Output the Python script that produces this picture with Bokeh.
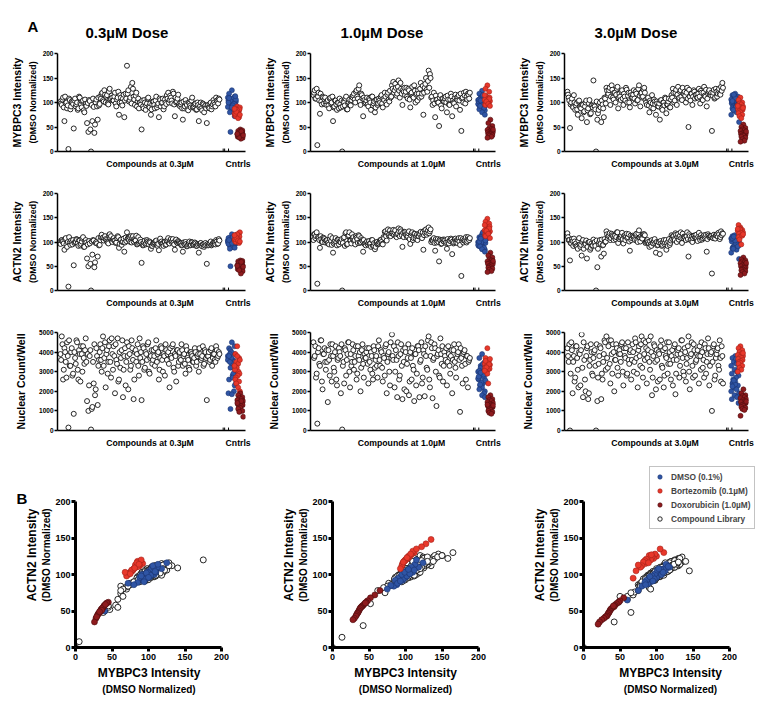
import numpy as np
from bokeh.plotting import figure
from bokeh.models import Range1d, LinearAxis, FixedTicker, Legend, LegendItem, Title
from bokeh.layouts import column, row
from bokeh.embed import file_html
from bokeh.resources import INLINE

FONT = "Liberation Sans"
BLUE, BLUE_EDGE = "#2f55a5", "#1b3470"
RED, RED_EDGE = "#e8382b", "#a3221a"
DKRED, DKRED_EDGE = "#8e1b1e", "#4e0c0e"

DOSES = ["0.3µM", "1.0µM", "3.0µM"]
Y_TICKS_INT = [0, 50, 100, 150, 200]
Y_TICKS_NUC = [0, 1000, 2000, 3000, 4000, 5000]

# ---------------- compound library, plate A (even wells) ----------------
MYBPC3_03 = [102, 95, 110, 62, 98, 88, 5, 105, 92, 100,
             47, 108, 96, 85, 112, 99, 90, 104, 80, 97,
             58, 40, 103, 0, 62, 91, 55, 106, 65, 94,
             112, 118, 105, 125, 100, 115, 96, 128, 108, 110,
             104, 120, 92, 110, 75, 115, 100, 108, 70, 118,
             175, 125, 105, 132, 140, 112, 95, 120, 102, 88,
             100, 45, 92, 105, 85, 98, 110, 90, 75, 96,
             102, 88, 112, 95, 70, 105, 99, 108, 92, 100,
             115, 120, 105, 110, 98, 118, 72, 100, 108, 95,
             92, 100, 65, 88, 105, 95, 84, 98, 90, 110,
             90, 96, 85, 100, 62, 93, 88, 98, 80, 94,
             58, 95, 88, 100, 92, 105, 96, 110, 102, 108]
ACTN2_03 = [96, 104, 102, 84, 108, 90, 8, 99, 103, 95,
            52, 100, 106, 97, 104, 93, 101, 110, 90, 104,
            66, 50, 97, 0, 74, 103, 58, 100, 70, 93,
            104, 115, 109, 108, 106, 101, 97, 116, 112, 100,
            108, 103, 99, 112, 88, 104, 94, 101, 80, 109,
            120, 106, 110, 112, 109, 101, 104, 113, 96, 98,
            105, 57, 93, 99, 95, 104, 98, 101, 86, 92,
            96, 99, 103, 92, 83, 107, 101, 97, 100, 94,
            103, 108, 97, 106, 102, 99, 84, 105, 98, 100,
            98, 93, 80, 96, 100, 91, 95, 101, 94, 99,
            94, 99, 92, 96, 78, 97, 93, 95, 90, 98,
            55, 93, 97, 101, 95, 99, 98, 104, 96, 106]
NUCLEI_03 = [3900, 4800, 2600, 4200, 3500, 4500, 150, 3300, 4000, 2800,
             850, 3700, 4600, 3100, 4100, 2500, 3900, 4300, 3400, 4700,
             1500, 1000, 3800, 50, 1200, 2400, 1800, 4200, 1300, 3600,
             4400, 3000, 4800, 3700, 2200, 4100, 3500, 4600, 2700, 3900,
             4300, 1900, 3600, 4700, 2600, 3200, 4100, 1700, 3800, 2300,
             4500, 2100, 3900, 3300, 4200, 1600, 4000, 3500, 4400, 2800,
             3700, 1550, 4300, 3100, 4000, 3600, 4500, 2900, 3800, 3400,
             4100, 3300, 4600, 3900, 2600, 3700, 4200, 3000, 3800, 4400,
             3600, 4000, 2200, 3800, 4300, 3200, 3900, 2500, 4100, 3500,
             3700, 4400, 3300, 3900, 2900, 4100, 3600, 3100, 4000, 3800,
             3500, 4200, 3300, 3800, 3000, 3900, 3700, 4300, 3400, 4000,
             1550, 3800, 3500, 4100, 3300, 3900, 3600, 4300, 3700, 4000]

MYBPC3_10 = [115, 125, 108, 13, 120, 77, 102, 112, 98, 110,
             95, 105, 88, 110, 100, 62, 92, 104, 85, 99,
             108, 90, 0, 102, 94, 112, 86, 100, 96, 105,
             110, 118, 100, 125, 108, 135, 95, 115, 72, 105,
             100, 110, 92, 105, 85, 112, 98, 80, 104, 95,
             108, 100, 115, 90, 105, 112, 96, 120, 102, 110,
             135, 142, 125, 130, 118, 145, 110, 128, 95, 122,
             115, 130, 108, 125, 90, 120, 112, 135, 100, 118,
             125, 110, 140, 118, 75, 130, 150, 122, 165, 158,
             110, 95, 120, 70, 105, 100, 52, 115, 88, 108,
             102, 112, 80, 106, 95, 118, 72, 100, 110, 92,
             105, 115, 85, 42, 110, 120, 98, 112, 118, 108]
ACTN2_10 = [104, 116, 112, 14, 108, 88, 106, 100, 108, 99,
            102, 97, 95, 112, 94, 78, 100, 108, 93, 104,
            101, 99, 0, 108, 92, 120, 96, 114, 103, 97,
            106, 102, 95, 109, 98, 112, 100, 104, 80, 96,
            93, 101, 98, 96, 90, 104, 92, 85, 99, 95,
            97, 104, 100, 95, 108, 122, 103, 126, 116, 112,
            118, 125, 120, 113, 116, 128, 112, 122, 90, 110,
            120, 114, 112, 122, 96, 118, 104, 117, 108, 115,
            112, 118, 121, 108, 84, 124, 126, 119, 130, 122,
            100, 104, 108, 82, 99, 106, 60, 103, 97, 105,
            105, 98, 86, 100, 103, 107, 75, 97, 106, 99,
            98, 108, 94, 30, 106, 103, 102, 99, 110, 104]
NUCLEI_10 = [4500, 3800, 2700, 350, 4200, 3300, 4600, 2100, 3900, 3500,
             4100, 1450, 3600, 4400, 2500, 3800, 3000, 4300, 2300, 3700,
             4000, 1900, 50, 3500, 4200, 2800, 3900, 4500, 2200, 3300,
             4400, 3100, 3800, 2600, 4300, 3600, 2000, 4100, 3400, 3900,
             3700, 4200, 2400, 3500, 4000, 2900, 4300, 3200, 3800, 2700,
             4600, 3300, 4000, 2500, 3700, 4300, 1900, 3900, 3000, 4500,
             4900, 3600, 2200, 4100, 1700, 3800, 2800, 4400, 1600, 3500,
             4200, 2000, 3700, 1800, 4000, 2600, 3300, 1500, 3900, 2900,
             4300, 1700, 3600, 2400, 4100, 1750, 3800, 3100, 4800, 2200,
             4500, 1650, 3700, 4200, 1250, 3900, 2800, 4700, 3400, 2500,
             4000, 3600, 2300, 4300, 3300, 3800, 1900, 4100, 3500, 2700,
             3900, 4400, 950, 3700, 2400, 4000, 3400, 3800, 2200, 3600]

MYBPC3_30 = [122, 110, 48, 100, 92, 115, 85, 98, 75, 104,
             90, 68, 95, 82, 100, 60, 88, 105, 78, 94,
             145, 92, 0, 65, 85, 100, 60, 96, 70, 108,
             130, 115, 125, 95, 135, 110, 120, 100, 128, 88,
             118, 105, 125, 95, 112, 130, 100, 120, 90, 115,
             110, 125, 98, 118, 105, 135, 92, 120, 112, 130,
             105, 95, 110, 80, 100, 115, 88, 102, 75, 98,
             92, 65, 105, 85, 100, 110, 78, 96, 108, 90,
             115, 128, 100, 120, 95, 132, 110, 125, 105, 118,
             122, 100, 130, 50, 112, 118, 95, 125, 108, 115,
             110, 128, 98, 120, 105, 132, 112, 92, 118, 125,
             115, 42, 120, 108, 128, 112, 125, 118, 132, 140]
ACTN2_30 = [118, 104, 62, 97, 102, 107, 95, 92, 86, 108,
            90, 72, 104, 94, 96, 66, 99, 100, 88, 92,
            105, 100, 0, 48, 96, 104, 70, 93, 76, 100,
            122, 108, 114, 104, 117, 112, 110, 106, 120, 98,
            106, 110, 119, 97, 114, 112, 108, 116, 82, 104,
            113, 110, 104, 117, 100, 124, 101, 108, 115, 116,
            98, 102, 100, 90, 95, 104, 97, 106, 78, 93,
            100, 75, 97, 94, 104, 99, 84, 92, 106, 98,
            114, 112, 106, 118, 100, 116, 110, 120, 98, 108,
            110, 104, 120, 70, 112, 106, 100, 113, 109, 115,
            102, 119, 104, 109, 108, 114, 112, 80, 116, 110,
            112, 35, 108, 110, 114, 116, 119, 106, 122, 118]
NUCLEI_30 = [4200, 3500, 0, 4500, 1900, 3800, 2700, 4300, 3100, 4000,
             2300, 4900, 1700, 3600, 2000, 4200, 1600, 3300, 4400, 2900,
             3700, 4100, 0, 1500, 3400, 4300, 1600, 2600, 3900, 4500,
             4800, 3200, 4600, 2400, 3900, 4400, 2000, 3600, 4200, 2800,
             4100, 3500, 4500, 2300, 3800, 4200, 2900, 3600, 4000, 2600,
             4400, 3000, 4700, 3700, 2200, 4300, 3300, 4800, 2700, 3900,
             4500, 2400, 4100, 3500, 4800, 1800, 3800, 4300, 2100, 3600,
             4000, 2600, 4600, 3200, 2200, 4200, 3700, 2900, 4500, 3400,
             3800, 2300, 4300, 1850, 3600, 4100, 2700, 3900, 4600, 3000,
             4200, 2500, 3700, 4800, 2100, 3900, 3300, 4400, 2800, 3600,
             4100, 2400, 3800, 4500, 3200, 2700, 4200, 3500, 4700, 2300,
             3900, 1000, 4300, 2600, 3700, 4100, 3300, 4600, 2500, 3800]

# ---------------- compound library, plate B (odd wells) ----------------
MYBPC3_03_B = [98, 106, 90, 112, 100, 94, 108, 86, 102, 97,
               104, 92, 100, 88, 110, 96, 102, 84, 106, 93,
               99, 105, 45, 95, 108, 38, 100, 92, 110, 97,
               108, 120, 102, 116, 112, 98, 122, 106, 114, 104,
               112, 98, 106, 122, 100, 110, 94, 116, 104, 108,
               118, 102, 110, 98, 128, 106, 114, 92, 108, 100,
               96, 104, 88, 100, 94, 108, 92, 98, 86, 102,
               95, 104, 90, 98, 108, 92, 100, 86, 106, 97,
               108, 100, 114, 104, 122, 96, 110, 102, 116, 98,
               96, 88, 102, 92, 98, 86, 100, 94, 104, 90,
               92, 98, 86, 95, 90, 100, 84, 96, 92, 88,
               94, 90, 98, 86, 96, 100, 92, 104, 98, 106]
ACTN2_03_B = [103, 101, 97, 106, 95, 100, 110, 94, 99, 104,
              98, 100, 105, 92, 103, 96, 107, 90, 101, 99,
              95, 102, 55, 101, 104, 48, 98, 97, 108, 94,
              110, 108, 103, 112, 104, 99, 114, 108, 102, 106,
              103, 98, 108, 110, 96, 105, 100, 107, 99, 102,
              107, 104, 100, 99, 112, 106, 103, 95, 110, 101,
              100, 96, 94, 103, 97, 101, 95, 99, 92, 97,
              98, 102, 95, 96, 104, 99, 97, 92, 100, 95,
              101, 98, 104, 100, 106, 95, 103, 99, 102, 97,
              97, 94, 99, 95, 96, 92, 98, 93, 100, 95,
              95, 97, 92, 94, 96, 98, 91, 95, 93, 94,
              96, 94, 98, 93, 97, 99, 95, 101, 97, 103]
NUCLEI_03_B = [3600, 4400, 3100, 4000, 2700, 3800, 4600, 3300, 4200, 2900,
               4000, 3400, 4500, 2600, 3900, 4300, 3000, 3700, 4100, 3500,
               3900, 2300, 4100, 1100, 3500, 4400, 2100, 3800, 3300, 4000,
               3600, 4200, 3300, 4500, 3900, 2900, 4300, 3500, 4700, 3100,
               3800, 4400, 3400, 2500, 4000, 3700, 4600, 3100, 4200, 3500,
               3800, 4300, 3100, 4600, 3600, 2600, 4100, 3900, 3300, 4700,
               4000, 3500, 4200, 3200, 3900, 4400, 3000, 3700, 4100, 3600,
               3800, 4200, 3500, 4000, 3100, 4300, 3600, 3900, 2800, 4100,
               3900, 3400, 4200, 3700, 4400, 3000, 3800, 4100, 3300, 4000,
               3600, 4100, 3800, 3400, 4300, 3700, 3200, 4000, 3900, 3500,
               3700, 4000, 3500, 3900, 4200, 3600, 3800, 3300, 4100, 3700,
               3800, 4000, 3600, 4200, 3700, 3900, 3500, 4100, 3800, 3900]

MYBPC3_10_B = [120, 108, 128, 112, 104, 118, 96, 110, 106, 100,
               102, 94, 108, 98, 112, 90, 104, 96, 100, 88,
               96, 104, 92, 100, 108, 86, 98, 106, 94, 112,
               114, 106, 122, 112, 128, 102, 118, 108, 110, 98,
               104, 96, 108, 100, 112, 94, 102, 90, 106, 98,
               104, 112, 98, 108, 120, 100, 116, 106, 124, 112,
               128, 120, 138, 114, 132, 124, 140, 118, 126, 130,
               122, 112, 128, 106, 118, 132, 110, 124, 116, 104,
               118, 128, 112, 134, 120, 138, 126, 144, 130, 150,
               112, 104, 98, 114, 106, 100, 110, 94, 108, 102,
               108, 100, 114, 96, 106, 112, 104, 98, 116, 110,
               112, 104, 118, 108, 100, 114, 122, 106, 116, 120]
ACTN2_10_B = [116, 108, 120, 110, 104, 112, 100, 109, 106, 103,
              104, 99, 106, 102, 108, 97, 103, 100, 105, 95,
              100, 106, 98, 110, 118, 95, 112, 120, 103, 116,
              110, 104, 112, 106, 114, 98, 108, 102, 104, 96,
              99, 95, 102, 97, 104, 92, 98, 90, 100, 96,
              100, 104, 96, 110, 121, 112, 119, 114, 124, 118,
              120, 115, 124, 110, 118, 122, 126, 114, 119, 121,
              116, 110, 118, 106, 114, 120, 108, 117, 112, 104,
              112, 116, 110, 120, 114, 118, 115, 124, 118, 126,
              104, 102, 98, 106, 103, 100, 105, 96, 104, 101,
              103, 100, 106, 97, 102, 105, 101, 99, 107, 104,
              104, 101, 108, 103, 99, 105, 110, 102, 106, 108]
NUCLEI_10_B = [3700, 4300, 2900, 4000, 3400, 4600, 2500, 3900, 4200, 3100,
               3500, 4100, 2800, 3800, 4400, 3200, 4000, 2600, 3600, 4200,
               3800, 4400, 3300, 2400, 4100, 3600, 4500, 3000, 3900, 3500,
               4100, 3500, 4300, 2900, 3800, 4000, 3200, 4400, 2700, 3700,
               4000, 3400, 4200, 3100, 3800, 2600, 4100, 3600, 3300, 4300,
               3600, 4100, 3200, 3800, 2800, 4400, 3500, 4000, 2300, 3700,
               3800, 4300, 3000, 3600, 4500, 2600, 3900, 3300, 4100, 2100,
               4000, 3400, 4400, 2500, 3700, 4200, 3100, 3900, 2300, 4300,
               4100, 3500, 4500, 2700, 3900, 4300, 3200, 4600, 2600, 3800,
               4200, 3600, 4400, 3000, 3800, 4100, 2700, 3900, 4300, 3300,
               3800, 4200, 3500, 3900, 2900, 4100, 3600, 4400, 3200, 3700,
               4000, 3600, 4200, 3300, 3900, 4100, 2600, 3800, 3500, 3700]

MYBPC3_30_B = [116, 104, 96, 108, 90, 100, 94, 86, 102, 92,
               88, 96, 80, 92, 104, 84, 98, 76, 94, 90,
               94, 86, 102, 78, 96, 90, 104, 88, 110, 98,
               124, 118, 130, 112, 126, 106, 120, 116, 132, 110,
               112, 122, 108, 118, 104, 126, 114, 100, 120, 110,
               116, 108, 122, 104, 128, 114, 118, 110, 126, 120,
               100, 108, 94, 104, 90, 98, 106, 96, 102, 92,
               98, 104, 88, 100, 94, 108, 96, 102, 90, 106,
               110, 120, 104, 126, 116, 108, 122, 112, 130, 118,
               114, 120, 108, 126, 104, 118, 112, 122, 116, 110,
               118, 112, 124, 106, 120, 114, 126, 108, 122, 116,
               120, 114, 126, 110, 122, 118, 128, 116, 124, 130]
ACTN2_30_B = [110, 104, 98, 106, 92, 101, 97, 90, 103, 95,
              94, 100, 86, 98, 103, 90, 99, 84, 97, 93,
              98, 92, 103, 86, 100, 96, 105, 94, 106, 101,
              116, 112, 118, 108, 114, 104, 113, 110, 120, 107,
              109, 114, 106, 112, 104, 117, 110, 101, 113, 108,
              111, 106, 115, 103, 118, 109, 112, 107, 116, 114,
              100, 104, 96, 101, 92, 98, 102, 97, 100, 94,
              99, 102, 92, 100, 96, 104, 98, 101, 94, 103,
              106, 112, 104, 115, 110, 105, 113, 108, 117, 111,
              109, 112, 106, 116, 104, 111, 108, 113, 110, 107,
              111, 108, 114, 105, 112, 109, 115, 106, 113, 110,
              112, 109, 115, 107, 113, 111, 116, 110, 114, 117]
NUCLEI_30_B = [3800, 4400, 2900, 4100, 3500, 2500, 4300, 3700, 2200, 3900,
               4100, 3200, 4500, 2600, 3800, 4300, 1900, 3600, 4000, 2800,
               4000, 3300, 4400, 2700, 3800, 4200, 2900, 3500, 4600, 3100,
               3700, 4300, 3400, 4600, 2900, 4000, 3600, 4400, 3200, 3900,
               3900, 4400, 3000, 4200, 3700, 2800, 4500, 3400, 4100, 3600,
               4000, 3500, 4500, 2900, 4100, 3800, 4400, 3200, 4600, 3600,
               4200, 3700, 4600, 3100, 4000, 2700, 4400, 3500, 4100, 2500,
               3900, 4300, 3300, 4100, 2800, 3800, 4500, 3400, 4000, 2600,
               4100, 3600, 4400, 2900, 3900, 4200, 3300, 4600, 3700, 2800,
               4000, 3400, 4300, 3000, 3800, 4500, 2700, 4100, 3500, 3900,
               3800, 4300, 3100, 4000, 3600, 4400, 2900, 3900, 4200, 3300,
               4000, 3500, 4400, 2800, 3900, 4200, 3100, 3700, 4300, 2400]

# ---------------- controls ----------------
DMSO_MYBPC3_03 = [125, 118, 112, 108, 105, 110, 102, 100, 98, 104, 96, 107, 93, 101, 99,
                  88, 103, 95, 91, 106, 85, 97, 100, 113, 94, 80, 90, 109, 72, 40]
DMSO_ACTN2_03 = [116, 108, 110, 100, 106, 103, 97, 104, 95, 108, 100, 110, 92, 97, 103,
                 96, 99, 94, 100, 112, 89, 102, 96, 114, 90, 86, 98, 104, 88, 50]
DMSO_NUCLEI_03 = [4500, 4200, 3900, 4100, 3600, 3800, 3300, 4000, 3500, 3700, 3000, 2800, 3900, 3400, 2600,
                  4300, 3200, 2900, 3600, 2400, 3700, 2000, 1900, 3100, 2700, 3500, 1850, 3800, 2300, 1100]
BORT_MYBPC3_03 = [92, 88, 85, 83, 80, 78, 90, 76, 82, 74, 86, 79, 72, 84, 77, 70, 81, 68, 87, 75]
BORT_ACTN2_03 = [115, 112, 118, 110, 108, 105, 120, 104, 113, 102, 111, 107, 100, 116, 106, 98, 109, 103, 114, 101]
BORT_NUCLEI_03 = [4300, 3900, 3700, 3500, 3400, 3300, 3600, 3200, 3000, 3100, 2900, 2800, 2700, 3800, 2600,
                  2500, 2400, 2200, 3300, 2000]
DOXO_MYBPC3_03 = [45, 42, 40, 38, 36, 35, 34, 33, 31, 30, 28, 26, 39, 37, 32, 43, 29, 41, 36, 33]
DOXO_ACTN2_03 = [62, 60, 58, 55, 53, 52, 50, 48, 46, 44, 40, 35, 57, 54, 47, 61, 42, 59, 51, 49]
DOXO_NUCLEI_03 = [1900, 1800, 1700, 1650, 1600, 1550, 1500, 1450, 1400, 1350, 1300, 1250, 1200, 1150, 1100,
                  1000, 950, 1500, 1400, 700]

DMSO_MYBPC3_10 = [124, 118, 113, 110, 107, 105, 103, 100, 98, 96, 94, 92, 90, 88, 86,
                  84, 108, 101, 97, 112, 95, 89, 102, 99, 115, 93, 80, 106, 75, 104]
DMSO_ACTN2_10 = [116, 110, 114, 103, 108, 100, 106, 96, 102, 92, 98, 90, 95, 86, 92,
                 84, 110, 104, 94, 106, 100, 88, 98, 103, 120, 91, 85, 101, 80, 107]
DMSO_NUCLEI_10 = [3900, 3700, 3500, 3300, 3100, 3000, 2900, 2800, 2700, 2600, 2500, 2400, 2300, 2200, 2100,
                  2000, 3200, 2850, 2650, 3600, 2450, 1900, 2750, 2550, 3400, 2350, 1800, 3050, 1700, 2950]
BORT_MYBPC3_10 = [135, 128, 122, 112, 108, 105, 103, 100, 98, 96, 110, 104, 101, 99, 95, 107, 102, 97, 115, 93]
BORT_ACTN2_10 = [148, 142, 138, 130, 127, 124, 122, 120, 118, 115, 132, 125, 121, 119, 112, 128, 123, 117, 135, 108]
BORT_NUCLEI_10 = [4200, 3700, 3600, 3500, 3450, 3400, 3350, 3300, 3250, 3200, 3150, 3100, 3000, 2900, 3550,
                  3380, 3220, 2400, 3050, 3650]
DOXO_MYBPC3_10 = [65, 58, 52, 48, 46, 44, 42, 41, 40, 39, 38, 37, 36, 35, 34, 33, 32, 30, 28, 45]
DOXO_ACTN2_10 = [78, 72, 68, 64, 62, 60, 58, 57, 56, 55, 54, 52, 50, 48, 47, 45, 43, 40, 38, 61]
DOXO_NUCLEI_10 = [1800, 1700, 1600, 1550, 1500, 1450, 1400, 1350, 1300, 1250, 1200, 1150, 1100, 1050, 1000,
                  950, 900, 850, 1320, 1280]

DMSO_MYBPC3_30 = [118, 115, 112, 110, 108, 106, 104, 102, 100, 98, 96, 94, 92, 90, 88,
                  86, 84, 80, 75, 60, 113, 107, 101, 97, 91, 85, 109, 103, 95, 116]
DMSO_ACTN2_30 = [110, 112, 105, 108, 102, 107, 99, 104, 96, 101, 93, 98, 90, 95, 87,
                 92, 89, 84, 78, 65, 114, 100, 106, 94, 97, 86, 103, 108, 91, 111]
DMSO_NUCLEI_30 = [3800, 3700, 3600, 3500, 3400, 3300, 3200, 3100, 3000, 2900, 2800, 2700, 2600, 2500, 2400,
                  2300, 2200, 2100, 2000, 1900, 1800, 1700, 1600, 1400, 3650, 2450, 2350, 2250, 3550, 2550]
BORT_MYBPC3_30 = [110, 105, 100, 98, 96, 94, 92, 90, 88, 86, 85, 84, 82, 80, 78, 75, 72, 68, 93, 89]
BORT_ACTN2_30 = [130, 135, 125, 128, 122, 124, 120, 126, 118, 121, 115, 119, 117, 112, 110, 113, 105, 95, 127, 116]
BORT_NUCLEI_30 = [4300, 4200, 4100, 4000, 3900, 3850, 3800, 3750, 3700, 3650, 3600, 3550, 3500, 3450, 3400,
                  3300, 3200, 3100, 3000, 3950]
DOXO_MYBPC3_30 = [55, 50, 48, 45, 43, 42, 40, 38, 37, 36, 35, 34, 33, 32, 30, 28, 25, 22, 20, 41]
DOXO_ACTN2_30 = [68, 64, 62, 60, 58, 56, 55, 53, 52, 50, 48, 47, 45, 43, 42, 40, 38, 35, 32, 57]
DOXO_NUCLEI_30 = [2100, 1900, 1800, 1750, 1700, 1650, 1600, 1550, 1500, 1450, 1400, 1350, 1300, 1250, 1200,
                  1150, 1100, 1050, 750, 1480]


def interleave(a, b):
    return [v for pair in zip(a, b) for v in pair]


COMP = {"MYBPC3": [interleave(MYBPC3_03, MYBPC3_03_B), interleave(MYBPC3_10, MYBPC3_10_B),
                   interleave(MYBPC3_30, MYBPC3_30_B)],
        "ACTN2": [interleave(ACTN2_03, ACTN2_03_B), interleave(ACTN2_10, ACTN2_10_B),
                  interleave(ACTN2_30, ACTN2_30_B)],
        "NUC": [interleave(NUCLEI_03, NUCLEI_03_B), interleave(NUCLEI_10, NUCLEI_10_B),
                interleave(NUCLEI_30, NUCLEI_30_B)]}
DMSO = {"MYBPC3": [DMSO_MYBPC3_03, DMSO_MYBPC3_10, DMSO_MYBPC3_30],
        "ACTN2": [DMSO_ACTN2_03, DMSO_ACTN2_10, DMSO_ACTN2_30],
        "NUC": [DMSO_NUCLEI_03, DMSO_NUCLEI_10, DMSO_NUCLEI_30]}
BORT = {"MYBPC3": [BORT_MYBPC3_03, BORT_MYBPC3_10, BORT_MYBPC3_30],
        "ACTN2": [BORT_ACTN2_03, BORT_ACTN2_10, BORT_ACTN2_30],
        "NUC": [BORT_NUCLEI_03, BORT_NUCLEI_10, BORT_NUCLEI_30]}
DOXO = {"MYBPC3": [DOXO_MYBPC3_03, DOXO_MYBPC3_10, DOXO_MYBPC3_30],
        "ACTN2": [DOXO_ACTN2_03, DOXO_ACTN2_10, DOXO_ACTN2_30],
        "NUC": [DOXO_NUCLEI_03, DOXO_NUCLEI_10, DOXO_NUCLEI_30]}

ROW_KEYS = ["MYBPC3", "ACTN2", "NUC"]
ROW_LABELS = ["MYBPC3 Intensity", "ACTN2 Intensity", "Nuclear Count/Well"]

# ---------------- layout constants ----------------
WIDTHS = [258, 250, 252]
TOP_LB = [57, 52, 56]
TOP_RB = [13, 13, 12]
TOP_H = [175, 140, 140]
TOP_TB = [53, 18, 17]
TOP_BB = [24, 25, 25]
TITLE_OFF = [28, 30, 30]
BOT_LB = [75, 74, 75]
BOT_RB = [36, 30, 3]
BOT_TB = 7
BOT_BB = 59
BOT_H = 251
X0, X1 = -2.2, 138.5
LAST_X = 119.0
CTRL_X = [128.3, 132.3, 134.6]
CTRL_HW = [3.0, 2.0, 2.2]
JIT = [0.0, -0.7, 0.7, -0.35, 0.35, -1.0, 1.0, -0.15, 0.5, -0.85, 0.85, 0.2, -0.5]


def style_axis(ax, lw, tick_out, label_size):
    ax.axis_line_color = "black"
    ax.axis_line_width = lw
    ax.major_tick_line_color = "black"
    ax.major_tick_line_width = lw
    ax.major_tick_out = tick_out
    ax.major_tick_in = 0
    ax.minor_tick_line_color = None
    ax.major_label_text_font = FONT
    ax.major_label_text_font_style = "bold"
    ax.major_label_text_font_size = label_size
    ax.major_label_text_color = "black"
    ax.axis_label_text_font = FONT
    ax.axis_label_text_font_style = "bold"
    ax.axis_label_text_color = "black"


def outer_label(p, text, size, side, standoff, bounds=None):
    ax = LinearAxis(ticker=FixedTicker(ticks=[]), axis_label=text)
    if bounds is not None:
        ax.bounds = bounds
    ax.axis_line_color = None
    ax.major_tick_line_color = None
    ax.minor_tick_line_color = None
    ax.major_label_text_font_size = "0px"
    ax.major_label_standoff = 0
    ax.axis_label_text_font = FONT
    ax.axis_label_text_font_style = "bold"
    ax.axis_label_text_font_size = size
    ax.axis_label_text_color = "black"
    ax.axis_label_standoff = standoff
    p.add_layout(ax, side)


def add_title(p, text, offset, standoff):
    p.add_layout(Title(text=text, align="left", offset=offset, standoff=standoff,
                       text_font=FONT, text_font_size="15px", text_font_style="bold",
                       text_color="black"), "above")


def ctrl_x(k, n):
    return [CTRL_X[k] + CTRL_HW[k] * JIT[i % len(JIT)] for i in range(n)]


def top_panel(ri, ci):
    key = ROW_KEYS[ri]
    ymax = 5000 if key == "NUC" else 200
    p = figure(width=WIDTHS[ci], height=TOP_H[ri], x_range=Range1d(X0, X1), y_range=Range1d(0, ymax),
               output_backend="svg", toolbar_location=None,
               min_border_left=TOP_LB[ci], min_border_right=TOP_RB[ci],
               min_border_top=TOP_TB[ri], min_border_bottom=TOP_BB[ri],
               outline_line_color=None, background_fill_color="white", border_fill_color="white")
    p.grid.visible = False
    if ri == 0:
        add_title(p, f"{DOSES[ci]} Dose", TITLE_OFF[ci], 26)
        if ci == 0:
            add_title(p, "A", -30, -52)

    xa = p.xaxis[0]
    style_axis(xa, 1.5, 0, "8.7px")
    xa.ticker = FixedTicker(ticks=[67, 133])
    xa.major_label_overrides = {67: f"Compounds at {DOSES[ci]}", 133: "Cntrls"}
    xa.major_tick_line_color = None
    xa.major_label_standoff = 7

    ya = p.yaxis[0]
    style_axis(ya, 1.5, 3, "6.5px")
    ya.ticker = FixedTicker(ticks=Y_TICKS_NUC if key == "NUC" else Y_TICKS_INT)
    ya.major_label_standoff = 1
    if key == "NUC":
        ya.axis_label = ROW_LABELS[ri]
        ya.axis_label_text_font_size = "10.5px"
        ya.axis_label_standoff = 9
    else:
        ya.axis_label = "(DMSO Normalized)"
        ya.axis_label_text_font_size = "8.8px"
        ya.axis_label_standoff = 2
        outer_label(p, ROW_LABELS[ri], "10.5px", "left", 2)

    comp = COMP[key][ci]
    xs = np.arange(len(comp)) * (LAST_X / (len(comp) - 1))
    p.scatter(xs, comp, size=5, fill_color="white", line_color="#111111", line_width=0.9)
    for k, (grp, col, edge) in enumerate([(DMSO, BLUE, BLUE_EDGE), (BORT, RED, RED_EDGE),
                                          (DOXO, DKRED, DKRED_EDGE)]):
        vals = grp[key][ci]
        p.scatter(ctrl_x(k, len(vals)), vals, size=5, fill_color=col, line_color=edge, line_width=0.6)
    # axis break marks
    p.segment(x0=[121.8, 122.9, 125.8], x1=[121.8, 122.9, 125.8],
              y0=[0, 0, 0], y1=[0.03 * ymax] * 3, line_color="black", line_width=1)
    return p


def bottom_panel(ci):
    w = WIDTHS[ci]
    frame_w = w - BOT_LB[ci] - BOT_RB[ci]
    frame_h = BOT_H - BOT_TB - BOT_BB
    px_per_unit = 146 / 200.0
    p = figure(width=w, height=BOT_H,
               x_range=Range1d(0, frame_w / px_per_unit), y_range=Range1d(0, frame_h / px_per_unit),
               output_backend="svg", toolbar_location=None,
               min_border_left=BOT_LB[ci], min_border_right=BOT_RB[ci],
               min_border_top=BOT_TB, min_border_bottom=BOT_BB,
               outline_line_color=None, background_fill_color="white", border_fill_color="white")
    p.grid.visible = False
    xa = p.xaxis[0]
    style_axis(xa, 3, 4, "9px")
    xa.bounds = (0, 200)
    xa.ticker = FixedTicker(ticks=Y_TICKS_INT)
    xa.major_label_standoff = 2
    xa.axis_label = "MYBPC3 Intensity"
    xa.axis_label_text_font_size = "12px"
    xa.axis_label_standoff = 3
    outer_label(p, "(DMSO Normalized)", "10px", "below", 1, bounds=(0, 200))

    ya = p.yaxis[0]
    style_axis(ya, 3, 4, "9px")
    ya.bounds = (0, 200)
    ya.ticker = FixedTicker(ticks=Y_TICKS_INT)
    ya.major_label_standoff = 1
    ya.axis_label = "(DMSO Normalized)"
    ya.axis_label_text_font_size = "10px"
    ya.axis_label_standoff = 0
    outer_label(p, "ACTN2 Intensity", "12px", "left", 0, bounds=(0, 200))

    r_comp = p.scatter(COMP["MYBPC3"][ci], COMP["ACTN2"][ci], size=6, fill_color="white",
                       line_color="#111111", line_width=0.9)
    r_dmso = p.scatter(DMSO["MYBPC3"][ci], DMSO["ACTN2"][ci], size=6, fill_color=BLUE,
                       line_color=BLUE_EDGE, line_width=0.6)
    r_bort = p.scatter(BORT["MYBPC3"][ci], BORT["ACTN2"][ci], size=6, fill_color=RED,
                       line_color=RED_EDGE, line_width=0.6)
    r_doxo = p.scatter(DOXO["MYBPC3"][ci], DOXO["ACTN2"][ci], size=6, fill_color=DKRED,
                       line_color=DKRED_EDGE, line_width=0.6)
    if ci == 2:
        leg = Legend(items=[LegendItem(label="DMSO (0.1%)", renderers=[r_dmso]),
                            LegendItem(label="Bortezomib (0.1µM)", renderers=[r_bort]),
                            LegendItem(label="Doxorubicin (1.0µM)", renderers=[r_doxo]),
                            LegendItem(label="Compound Library", renderers=[r_comp])],
                     location=(66, 118), margin=0, padding=4, spacing=3,
                     glyph_width=11, glyph_height=11, label_standoff=6,
                     label_text_font=FONT, label_text_font_style="bold",
                     label_text_font_size="8.3px", border_line_color="#888888",
                     border_line_width=1, background_fill_color="white", background_fill_alpha=1)
        p.add_layout(leg)
    if ci == 0:
        add_title(p, "B", -59, -89)
    return p


top_rows = [row(*[top_panel(ri, ci) for ci in range(3)]) for ri in range(3)]
bottom = row(*[bottom_panel(ci) for ci in range(3)])
layout = column(*top_rows, bottom)

open("out.html", "w").write(file_html(layout, INLINE))
